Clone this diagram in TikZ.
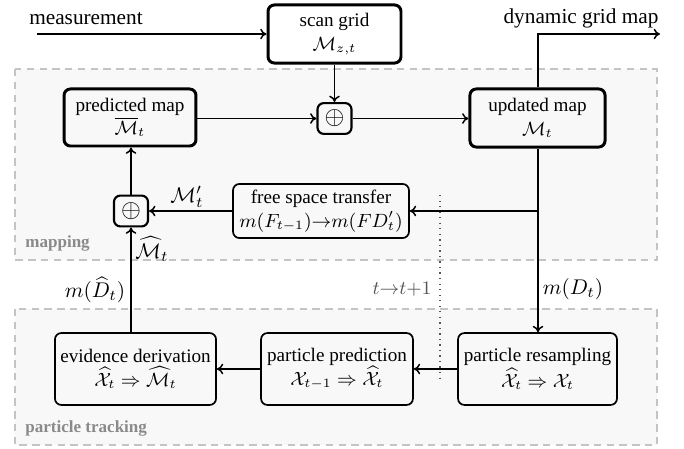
\documentclass[tikz,border=0pt]{standalone}
\usepackage{fontspec}
\setmainfont{Liberation Serif}
\usetikzlibrary{arrows.meta,calc}
\definecolor{regionfill}{HTML}{F8F8F8}
\definecolor{regionline}{HTML}{C4C4C4}
\definecolor{regionlabel}{HTML}{8A8A8A}
\definecolor{steplabel}{HTML}{555555}
\tikzset{
  x=0.47pt, y=-0.47pt,
  region/.style={draw=regionline, fill=regionfill, line width=0.5pt, dash pattern=on 3.5pt off 2.5pt},
  regionname/.style={anchor=west, text=regionlabel, font=\footnotesize\bfseries, inner sep=0pt},
  mainbox/.style={draw, line width=1.4pt, rounded corners=3pt, align=center, font=\small, inner sep=0pt},
  procbox/.style={draw, line width=0.8pt, rounded corners=3pt, align=center, font=\small, inner sep=0pt},
  sumbox/.style={draw, line width=1pt, rounded corners=3pt, inner sep=0pt,
    minimum width=16pt, minimum height=14.5pt},
  flow/.style={-{To[length=3pt,width=5pt]}, line width=0.7pt},
  plain/.style={line width=0.7pt},
  lbl/.style={inner sep=0pt}
}
\begin{document}
\begin{tikzpicture}
\useasboundingbox (0,0) rectangle (684,449);

% shaded regions
\draw[region] (15,69) rectangle (657,260);
\draw[region] (15,309) rectangle (657,445);
\node[regionname] (mapname) at (25,243) {mapping};
\node[regionname] (trackname) at (25,428) {particle tracking};

% time step separator
\draw[steplabel, line width=0.6pt, dotted] (440,195) -- (440,382);
\node[lbl, text=steplabel, anchor=east] (tstep) at (432,289) {\small $t{\to}t{+}1$};

% mapping nodes
\node[mainbox, minimum width=62.5pt, minimum height=27.3pt] (scan) at (334.5,34)
  {scan grid\\[0pt]$\mathcal{M}_{z,t}$};
\node[mainbox, minimum width=62pt, minimum height=26.8pt] (pred) at (130,117.5)
  {predicted map\\[0pt]$\overline{\mathcal{M}}_t$};
\node[mainbox, minimum width=63.5pt, minimum height=27.3pt] (upd) at (537.5,118)
  {updated map\\[0pt]$\mathcal{M}_t$};
\node[sumbox] (sumtop) at (334.5,118.5) {\large$\oplus$};
\node[sumbox] (sumbot) at (131,211) {\large$\oplus$};
\node[procbox, minimum width=82.7pt, minimum height=25.4pt] (free) at (321,211)
  {free space transfer\\[0pt]$m(F_{t-1}){\to}m(FD'_t)$};

% tracking nodes
\node[procbox, minimum width=75.7pt, minimum height=33.8pt] (evid) at (135.5,369)
  {evidence derivation\\[0pt]$\widehat{\mathcal{X}}_t \Rightarrow \widehat{\mathcal{M}}_t$};
\node[procbox, minimum width=71.4pt, minimum height=33.8pt] (ppred) at (337,369)
  {particle prediction\\[0pt]$\mathcal{X}_{t-1} \Rightarrow \widehat{\mathcal{X}}_t$};
\node[procbox, minimum width=74.7pt, minimum height=33.8pt] (resamp) at (537.5,369)
  {particle resampling\\[0pt]$\widehat{\mathcal{X}}_t \Rightarrow \mathcal{X}_t$};

% input and output
\coordinate (meas) at (37,34);
\coordinate (outcorner) at (538,34);
\coordinate (outend) at (660,34);
\coordinate (branch) at (538,211);
\node[lbl] (measlbl) at (86,19) {measurement};
\node[lbl] (outlbl) at (581,18) {dynamic grid map};

\draw[flow] (meas) -- (scan.west);
\draw[flow] (scan.south) -- (sumtop.north);
\draw[flow] (pred.east |- sumtop) -- (sumtop.west);
\draw[flow] (sumtop.east) -- (upd.west |- sumtop);
\draw[flow] (upd.north -| outcorner) -- (outcorner) -- (outend);

% feedback loop
\draw[plain] (upd.south -| branch) -- (branch);
\draw[flow] (branch) -- (free.east);
\draw[flow] (free.west) -- (sumbot.east);
\draw[flow] (sumbot.north) -- (pred.south -| sumbot);
\draw[flow] (branch) -- (resamp.north -| branch);
\draw[flow] (resamp.west) -- (ppred.east);
\draw[flow] (ppred.west) -- (evid.east);
\draw[flow] (evid.north -| sumbot) -- (sumbot.south);

% connector labels
\node[lbl] (mprime) at (187,197) {$\mathcal{M}'_t$};
\node[lbl] (mhat) at (152,249) {$\widehat{\mathcal{M}}_t$};
\node[lbl] (mdhat) at (95,290) {$m(\widehat{D}_t)$};
\node[lbl] (md) at (573,289) {$m(D_t)$};
\end{tikzpicture}
\end{document}
